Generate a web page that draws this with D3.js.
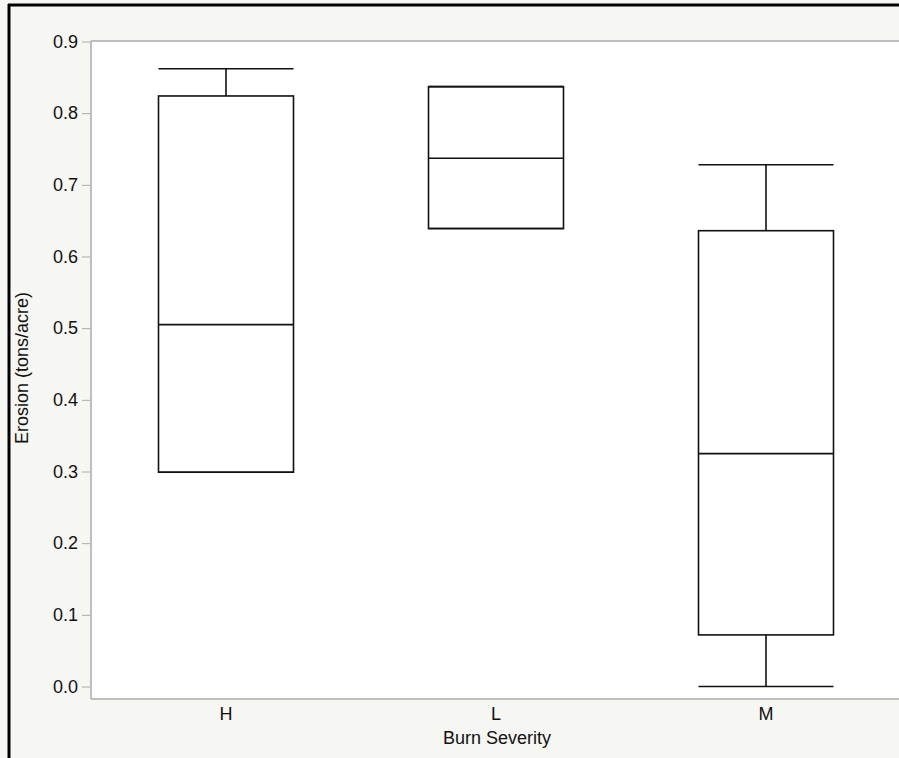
<!DOCTYPE html>
<html>
<head>
<meta charset="utf-8">
<script src="https://cdn.jsdelivr.net/npm/d3@7.9.0/dist/d3.min.js"></script>
<style>
  body { margin: 0; background: #fff; overflow: hidden; }
  svg { display: block; font-family: "Liberation Sans", Arial, sans-serif; }
</style>
</head>
<body>
<svg id="chart" width="899" height="758"></svg>
<script>
// Box plot summary per burn severity group
const categories = ["H", "L", "M"];
const whiskerHigh = [0.862, 0.837, 0.728];
const q3 = [0.824, 0.837, 0.636];
const medians = [0.505, 0.737, 0.325];
const q1 = [0.299, 0.639, 0.072];
const whiskerLow = [0.299, 0.639, 0.0];
const yTicks = [0.0, 0.1, 0.2, 0.3, 0.4, 0.5, 0.6, 0.7, 0.8, 0.9];

const data = categories.map((c, i) => ({
  cat: c, hi: whiskerHigh[i], q3: q3[i], med: medians[i], q1: q1[i], lo: whiskerLow[i]
}));

const svg = d3.select("#chart");
const plotL = 91, plotT = 41, plotR = 901, plotB = 699;

// frame + background
svg.append("rect").attr("x", 0).attr("y", 0).attr("width", 899).attr("height", 758).attr("fill", "#f6f6f2");
svg.append("line").attr("x1", 9).attr("x2", 9).attr("y1", 4).attr("y2", 758).attr("stroke", "#000").attr("stroke-width", 3);
svg.append("line").attr("x1", 8).attr("x2", 899).attr("y1", 5).attr("y2", 5).attr("stroke", "#000").attr("stroke-width", 3);

svg.append("rect").attr("x", plotL).attr("y", plotT).attr("width", plotR - plotL).attr("height", plotB - plotT).attr("fill", "#fff");

const x = d3.scaleBand().domain(categories).range([plotL, plotR]);
const y = d3.scaleLinear().domain([0, 0.9]).range([686.5, 41.5]);

// axes
const yAxis = svg.append("g").attr("transform", `translate(${plotL},0)`)
  .call(d3.axisLeft(y).tickValues(yTicks).tickFormat(d3.format(".1f")).tickSize(9).tickPadding(4));
yAxis.select(".domain").remove();
yAxis.selectAll(".tick line").attr("stroke", "#aaa").attr("x1", -1);
yAxis.selectAll("text").attr("font-size", 18).attr("fill", "#111");

const xAxis = svg.append("g").attr("transform", `translate(0,${plotB})`)
  .call(d3.axisBottom(x).tickSize(0).tickPadding(8));
xAxis.select(".domain").remove();
xAxis.selectAll("text").attr("font-size", 18).attr("fill", "#111");

svg.append("line").attr("x1", plotL).attr("x2", plotL).attr("y1", plotT).attr("y2", plotB).attr("stroke", "#aaa").attr("stroke-width", 1.5);
svg.append("line").attr("x1", plotL).attr("x2", plotR).attr("y1", plotT).attr("y2", plotT).attr("stroke", "#aaa").attr("stroke-width", 1.5);
svg.append("line").attr("x1", plotL).attr("x2", plotR).attr("y1", plotB).attr("y2", plotB).attr("stroke", "#aaa").attr("stroke-width", 1.5);

// boxes
const bw = x.bandwidth() / 2;
const g = svg.selectAll(".box").data(data).join("g")
  .attr("transform", d => `translate(${x(d.cat) + x.bandwidth() / 2},0)`);

g.append("line").attr("x1", 0).attr("x2", 0).attr("y1", d => y(d.hi)).attr("y2", d => y(d.q3))
  .attr("stroke", "#111").attr("stroke-width", 1.6);
g.append("line").attr("x1", 0).attr("x2", 0).attr("y1", d => y(d.q1)).attr("y2", d => y(d.lo))
  .attr("stroke", "#111").attr("stroke-width", 1.6);
g.append("line").attr("x1", -bw / 2).attr("x2", bw / 2).attr("y1", d => y(d.hi)).attr("y2", d => y(d.hi))
  .attr("stroke", "#111").attr("stroke-width", 1.6);
g.append("line").attr("x1", -bw / 2).attr("x2", bw / 2).attr("y1", d => y(d.lo)).attr("y2", d => y(d.lo))
  .attr("stroke", "#111").attr("stroke-width", 1.6);
g.append("rect").attr("x", -bw / 2).attr("width", bw)
  .attr("y", d => y(d.q3)).attr("height", d => y(d.q1) - y(d.q3))
  .attr("fill", "none").attr("stroke", "#111").attr("stroke-width", 1.6);
g.append("line").attr("x1", -bw / 2).attr("x2", bw / 2).attr("y1", d => y(d.med)).attr("y2", d => y(d.med))
  .attr("stroke", "#111").attr("stroke-width", 1.6);

// titles
svg.append("text").attr("x", 497).attr("y", 744).attr("text-anchor", "middle")
  .attr("font-size", 18).attr("fill", "#111").text("Burn Severity");
svg.append("text").attr("transform", `translate(28,368) rotate(-90)`).attr("text-anchor", "middle")
  .attr("font-size", 18).attr("fill", "#111").text("Erosion (tons/acre)");
</script>
</body>
</html>
